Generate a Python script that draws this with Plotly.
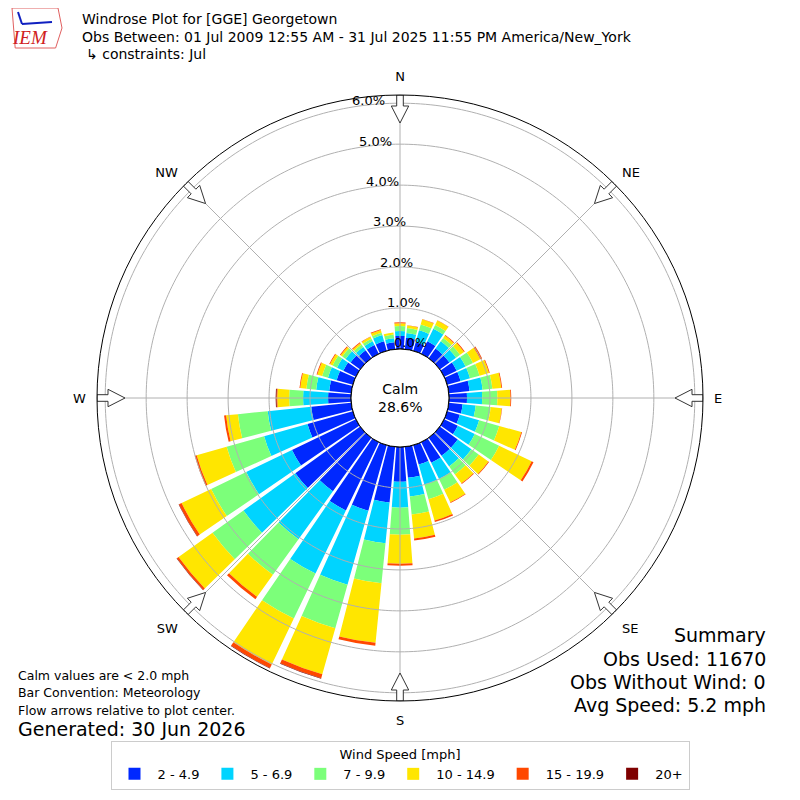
import numpy as np
import plotly.graph_objects as go

# wind direction bins (deg, meteorological) and speed classes
directions = list(range(0, 360, 10))
speed_bins = ['2 - 4.9', '5 - 6.9', '7 - 9.9', '10 - 14.9', '15 - 19.9', '20+']
bin_colors = ['#0028ff', '#00d4ff', '#7cff7a', '#ffe600', '#ff4800', '#7f0000']

# percent of all observations for each direction, one list per speed class
spd_2 = [0.32, 0.28, 0.22, 0.34, 0.29, 0.29, 0.34, 0.34, 0.51, 0.44, 0.34, 0.32,
         0.37, 0.54, 0.54, 0.56, 0.49, 0.76, 0.85, 1.37, 1.66, 1.85, 1.61, 1.95,
         1.73, 1.15, 0.98, 0.56, 0.54, 0.41, 0.34, 0.29, 0.24, 0.24, 0.24, 0.17]
spd_5 = [0.12, 0.12, 0.30, 0.34, 0.22, 0.20, 0.24, 0.24, 0.32, 0.37, 0.32, 0.49,
         0.46, 0.41, 0.32, 0.44, 0.51, 0.46, 0.63, 1.00, 1.88, 1.71, 1.44, 1.56,
         1.24, 1.10, 1.07, 0.61, 0.32, 0.22, 0.17, 0.15, 0.10, 0.10, 0.16, 0.10]
spd_7 = [0.12, 0.12, 0.15, 0.10, 0.10, 0.12, 0.20, 0.24, 0.24, 0.37, 0.37, 0.51,
         0.66, 0.22, 0.24, 0.29, 0.37, 0.44, 0.66, 0.98, 1.10, 1.22, 1.07, 0.93,
         0.95, 0.95, 0.73, 0.34, 0.24, 0.15, 0.12, 0.10, 0.07, 0.07, 0.06, 0.09]
spd_10 = [0.07, 0.06, 0.13, 0.12, 0.07, 0.12, 0.20, 0.24, 0.22, 0.32, 0.27, 0.56,
          0.88, 0.29, 0.27, 0.34, 0.54, 0.59, 0.71, 1.46, 1.17, 1.24, 0.66, 1.02,
          0.80, 0.76, 0.29, 0.29, 0.15, 0.12, 0.07, 0.05, 0.05, 0.05, 0.07, 0.05]
spd_15 = [0.02, 0.01, 0.01, 0.01, 0.02, 0.02, 0.05, 0.02, 0.02, 0.02, 0.01, 0.02,
          0.05, 0.02, 0.02, 0.02, 0.04, 0.05, 0.05, 0.07, 0.10, 0.10, 0.07, 0.05,
          0.07, 0.05, 0.05, 0.02, 0.02, 0.02, 0.02, 0.02, 0.02, 0.01, 0.02, 0.00]
spd_20 = [0.00, 0.00, 0.00, 0.00, 0.00, 0.00, 0.00, 0.00, 0.00, 0.00, 0.00, 0.00,
          0.00, 0.00, 0.00, 0.00, 0.00, 0.00, 0.00, 0.00, 0.01, 0.01, 0.00, 0.01,
          0.01, 0.00, 0.00, 0.02, 0.00, 0.00, 0.00, 0.00, 0.00, 0.00, 0.00, 0.00]
speed_series = [spd_2, spd_5, spd_7, spd_10, spd_15, spd_20]

compass_dirs = [0, 45, 90, 135, 180, 225, 270, 315]
compass_labels = ['N', 'NE', 'E', 'SE', 'S', 'SW', 'W', 'NW']
pct_ticks = [0, 1, 2, 3, 4, 5, 6]
calm_pct = 28.6

R_MAX = 6.2
PX_OUT = 303.0   # outer ring radius in screen px
PX_HOLE = 49.0   # calm hole radius in px
px_per = (PX_OUT - PX_HOLE) / R_MAX
CX, CY = 400, 398  # plot centre on the page
RLABEL_DIR = 350   # radial labels sit along this bearing

FONT = 'DejaVu Sans'
GRID = '#b0b0b0'
OFF = 8  # page body margin


def px(x, y):
    # page pixel -> paper coords
    return (x - OFF) / 800, 1 - (y - OFF) / 800


fig = go.Figure()

for name, vals, col in zip(speed_bins, speed_series, bin_colors):
    fig.add_trace(go.Barpolar(
        r=vals, theta=directions, width=8.6, name=name,
        marker=dict(color=col, line=dict(width=0)),
    ))

# grid drawn on top of the bars, like the original
ring_theta = np.linspace(0, 360, 361)
for t in pct_ticks[1:]:
    fig.add_trace(go.Scatterpolar(r=[t] * len(ring_theta), theta=ring_theta, mode='lines',
                                  line=dict(color=GRID, width=1), showlegend=False, hoverinfo='skip'))
for d in compass_dirs:
    fig.add_trace(go.Scatterpolar(r=[0, R_MAX], theta=[d, d], mode='lines',
                                  line=dict(color=GRID, width=1), showlegend=False, hoverinfo='skip'))
# edge of calm circle
fig.add_trace(go.Scatterpolar(r=[0] * len(ring_theta), theta=ring_theta, mode='lines',
                              line=dict(color='black', width=1), showlegend=False, hoverinfo='skip'))

# hollow flow arrows at the compass points
arrow_shape = [(303, -3.3), (292, -3.3), (292, -8.7), (275, 0), (292, 8.7), (292, 3.3), (303, 3.3), (303, -3.3)]
for d in compass_dirs:
    rr, tt = [], []
    for R, w in arrow_shape:
        dist = np.hypot(R, w)
        rr.append((dist - PX_HOLE) / px_per)
        tt.append(d + np.degrees(np.arctan2(w, R)))
    fig.add_trace(go.Scatterpolar(r=rr, theta=tt, mode='lines', fill='toself', fillcolor='white',
                                  line=dict(color='#333333', width=1), showlegend=False, hoverinfo='skip'))

cx, cy = px(CX, CY)
half = PX_OUT / 800

fig.update_layout(
    width=800, height=800,
    margin=dict(l=0, r=0, t=0, b=0),
    paper_bgcolor='white',
    font=dict(family=FONT, color='black', size=13),
    polar=dict(
        domain=dict(x=[cx - half, cx + half], y=[cy - half, cy + half]),
        hole=PX_HOLE / PX_OUT,
        bgcolor='white',
        barmode='stack',
        radialaxis=dict(range=[0, R_MAX], tickvals=pct_ticks, showticklabels=False,
                        showline=False, showgrid=False, ticks=''),
        angularaxis=dict(rotation=90, direction='clockwise', tickvals=compass_dirs,
                         ticktext=compass_labels, showgrid=False, showline=True,
                         linecolor='black', linewidth=1, ticks='outside', ticklen=8,
                         tickcolor='rgba(0,0,0,0)',
                         tickfont=dict(size=13, color='black')),
    ),
    legend=dict(orientation='h', x=px(400, 0)[0], xanchor='center', y=px(0, 741)[1], yanchor='top',
                bgcolor='white', bordercolor='#cccccc', borderwidth=1, itemwidth=36,
                title=dict(text='Wind Speed [mph]', side='top center', font=dict(size=13)),
                font=dict(size=13)),
)

# radial percent labels, left edge on the 350 deg bearing just above each ring
b = np.radians(RLABEL_DIR)
for t in pct_ticks:
    R = PX_HOLE + t * px_per
    ax, ay = px(CX + R * np.sin(b) + 1, CY - R * np.cos(b) - 7)
    fig.add_annotation(x=ax, y=ay, xref='paper', yref='paper', text='%.1f%%' % t,
                       showarrow=False, xanchor='left', yanchor='middle',
                       font=dict(size=13, family=FONT, color='black'))

ann = [
    (80, 19, 'Windrose Plot for [GGE] Georgetown', 14, 'left'),
    (80, 37, 'Obs Between: 01 Jul 2009 12:55 AM - 31 Jul 2025 11:55 PM America/New_York', 14, 'left'),
    (84, 54, '↳ constraints: Jul', 14, 'left'),
    (CX, CY, 'Calm<br>%.1f%%' % calm_pct, 14, 'center'),
    (16, 675, 'Calm values are < 2.0 mph', 12.5, 'left'),
    (16, 692, 'Bar Convention: Meteorology', 12.5, 'left'),
    (16, 710, 'Flow arrows relative to plot center.', 12.5, 'left'),
    (16, 729, 'Generated: 30 Jun 2026', 19, 'left'),
    (768, 635, 'Summary', 19, 'right'),
    (768, 659, 'Obs Used: 11670', 19, 'right'),
    (768, 682, 'Obs Without Wind: 0', 19, 'right'),
    (768, 705, 'Avg Speed: 5.2 mph', 19, 'right'),
]
for x, y, text, size, xa in ann:
    ax, ay = px(x, y)
    fig.add_annotation(x=ax, y=ay, xref='paper', yref='paper', text=text,
                       showarrow=False, xanchor=xa, yanchor='middle',
                       font=dict(size=size, family=FONT, color='black'))

# small IEM logo stand-in
lx0, ly0 = px(12, 8)
lx1, ly1 = px(62, 48)
fig.add_shape(type='path', xref='paper', yref='paper',
              path='M %f %f L %f %f L %f %f L %f %f L %f %f Z' % (
                  lx0, ly0, lx1 - 0.005, ly0, lx1, (ly0 + ly1) / 2, lx1 - 0.008, ly1, lx0 + 0.004, ly1),
              line=dict(color='#e06060', width=1))
ix, iy = px(30, 38)
fig.add_annotation(x=ix, y=iy, xref='paper', yref='paper', text='<i>IEM</i>',
                   showarrow=False, xanchor='center', yanchor='middle',
                   font=dict(size=19, family='Liberation Serif', color='#d02020'))
bx0, by0 = px(22, 24)
bx1, by1 = px(52, 22)
fig.add_shape(type='line', xref='paper', yref='paper', x0=bx0, y0=by0, x1=bx1, y1=by1,
              line=dict(color='#1020c0', width=2))
dx0, dy0 = px(18, 12)
fig.add_shape(type='line', xref='paper', yref='paper', x0=dx0, y0=dy0, x1=bx0, y1=by0,
              line=dict(color='#1020c0', width=2))

fig.write_html('out.html')
